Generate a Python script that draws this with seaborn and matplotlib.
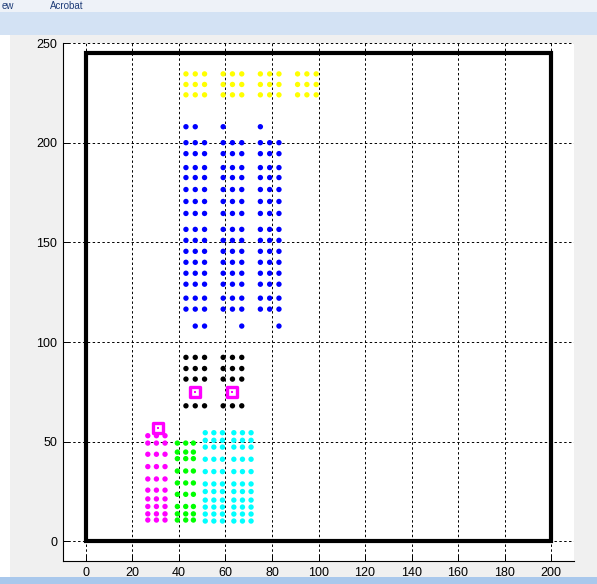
import matplotlib.pyplot as plt
import seaborn as sns
import pandas as pd
from matplotlib.patches import Rectangle

# node columns / rows
yellow_x = [43, 47, 51, 59, 63, 67, 75, 79, 83, 91, 95, 99]
yellow_y = [234.5, 229.2, 224]

blue_x = [43, 47, 51, 59, 63, 67, 75, 79, 83]
blue_y = [200, 194.5, 187.5, 182.5, 176.5, 170.5, 164.5, 156.5, 151,
          145.5, 140, 134.5, 129, 122, 116.5]
blue_top_x = [43, 47, 59, 75]
blue_top_y = 208
blue_bot_x = [47, 51, 67, 83]
blue_bot_y = 108

black_x = [43, 47, 51, 59, 63, 67]
black_y = [92.3, 86.7, 81.4, 68]

magenta_x = [26.6, 30.3, 34]
magenta_y = [53, 49.3, 43.7, 37.5, 31.3, 25.7, 21.3, 17.5, 13.8, 10.7]

green_x = [39.3, 42.9, 46.2]
green_y = [49.3, 44.8, 41.5, 35.3, 29.3, 23.6, 17.5, 13.8, 10.7]

cyan_x = [51.3, 55, 58.7, 63.6, 67.3, 71]
cyan_y = [54.5, 50.7, 47.3, 41.2, 35, 28.8, 25, 20.7, 17.2, 13.7, 10.2]

heads_x = [47, 63, 31]
heads_y = [75, 75, 57]

field_w, field_h = 200, 245

rows = []
def add(name, xs, ys):
    for y in ys:
        for x in xs:
            rows.append({'x': x, 'y': y, 'group': name})

add('yellow', yellow_x, yellow_y)
add('blue', blue_x, blue_y)
add('blue', blue_top_x, [blue_top_y])
add('blue', blue_bot_x, [blue_bot_y])
add('black', black_x, black_y)
add('magenta', magenta_x, magenta_y)
add('green', green_x, green_y)
add('cyan', cyan_x, cyan_y)
nodes = pd.DataFrame(rows)

palette = {'yellow': '#ffff00', 'blue': '#0000ff', 'black': '#000000',
           'magenta': '#ff00ff', 'green': '#00ff00', 'cyan': '#00ffff'}

sns.set_style('white')
plt.rcParams['font.family'] = ['Liberation Sans', 'DejaVu Sans']

fig = plt.figure(figsize=(5.97, 5.84), dpi=100)
fig.patch.set_facecolor('#f0f0f0')

# window chrome of the screenshot
fig.patches.append(Rectangle((0, 1 - 12/584), 1, 12/584, transform=fig.transFigure,
                             facecolor='#eef2f8', edgecolor='none', zorder=0))
fig.patches.append(Rectangle((0, 1 - 35/584), 1, 23/584, transform=fig.transFigure,
                             facecolor='#d3e2f4', edgecolor='none', zorder=0))
fig.patches.append(Rectangle((0, 0), 1, 7/584, transform=fig.transFigure,
                             facecolor='#a9c8ec', edgecolor='none', zorder=0))
fig.patches.append(Rectangle((0, 7/584), 10/597, 1 - 42/584, transform=fig.transFigure,
                             facecolor='white', edgecolor='none', zorder=0))
fig.text(2/597, 1 - 6/584, 'ew', fontsize=7, color='#1e3c78', va='center')
fig.text(50/597, 1 - 6/584, 'Acrobat', fontsize=7, color='#1e3c78', va='center')

ax = fig.add_axes([62.7/597, (584 - 561.3)/584, (574.3 - 62.7)/597, (561.3 - 43)/584])
ax.set_facecolor('white')

ax.add_patch(Rectangle((0, 0), field_w, field_h, fill=False, edgecolor='black',
                       linewidth=3, zorder=2))

sns.scatterplot(data=nodes, x='x', y='y', hue='group', palette=palette, ax=ax,
                marker='o', s=15, linewidth=0, legend=False, zorder=3)

heads = pd.DataFrame({'x': heads_x, 'y': heads_y})
sns.scatterplot(data=heads, x='x', y='y', ax=ax, marker='s', s=60,
                facecolor='white', edgecolor='#ff00ff', linewidth=2.4,
                legend=False, zorder=4)
sns.scatterplot(data=heads, x='x', y='y', ax=ax, marker='s', s=3,
                color='#ff00ff', linewidth=0, legend=False, zorder=5)

ax.set_xlim(-10, 210)
ax.set_ylim(-10, 250)
ax.set_xticks(range(0, 201, 20))
ax.set_yticks(range(0, 251, 50))
ax.set_xlabel('')
ax.set_ylabel('')
ax.grid(True, color='black', linestyle=(0, (2.5, 2.5)), linewidth=0.7)
ax.set_axisbelow(True)
ax.tick_params(axis='both', direction='in', length=4, width=0.7, labelsize=9,
               colors='black', left=True, bottom=True, pad=4)
for side in ['top', 'right']:
    ax.spines[side].set_visible(False)
for side in ['left', 'bottom']:
    ax.spines[side].set_color('black')
    ax.spines[side].set_linewidth(0.8)

plt.savefig('out.png', dpi=100, facecolor=fig.get_facecolor())
